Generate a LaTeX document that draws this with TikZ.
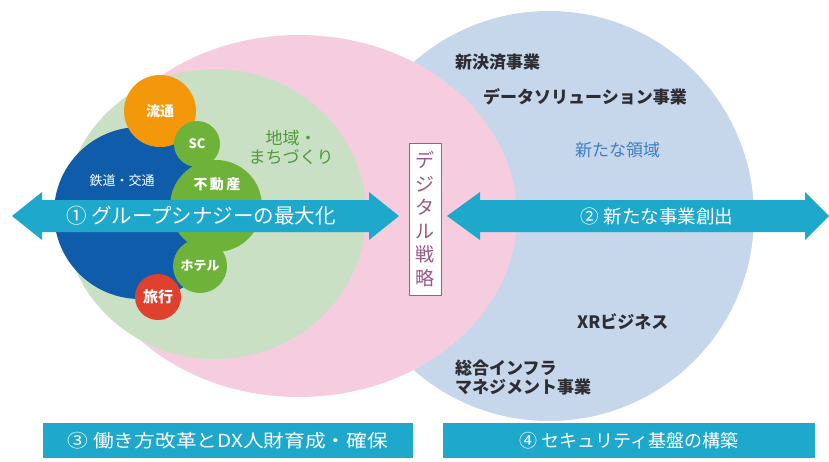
\documentclass[tikz,border=0pt]{standalone}
\usepackage{fontspec}
\setmainfont{Noto Sans CJK JP}
\newfontfamily\jp{Noto Sans CJK JP}
\definecolor{pinkbg}{RGB}{246,205,223}
\definecolor{bluebg}{RGB}{198,214,235}
\definecolor{greenbg}{RGB}{202,224,196}
\definecolor{rail}{RGB}{14,92,170}
\definecolor{orng}{RGB}{243,152,10}
\definecolor{grn}{RGB}{110,178,58}
\definecolor{redc}{RGB}{224,64,46}
\definecolor{cyanar}{RGB}{30,168,204}
\definecolor{newblue}{RGB}{60,126,192}
\definecolor{areagreen}{RGB}{78,154,60}
\definecolor{digi}{RGB}{150,88,138}
\definecolor{darktxt}{RGB}{45,45,50}
\tikzset{
  smallcirc/.style={circle,inner sep=0pt,text=white,font=\jp\bfseries\fontsize{13}{15}\selectfont},
  darklabel/.style={anchor=west,inner sep=0pt,text=darktxt,font=\jp\bfseries\fontsize{17}{19}\selectfont},
  arrowtext/.style={text=white,inner sep=0pt},
  bottombox/.style={fill=cyanar,draw=none,minimum height=35pt,inner sep=0pt,text=white,font=\jp\fontsize{18}{20}\selectfont},
  dblarrow/.style={fill=cyanar,draw=none}
}
\begin{document}
\begin{tikzpicture}[x=1pt,y=-1pt]
\useasboundingbox (0,0) rectangle (829,461);
\fill[white] (0,0) rectangle (829,461);
% big ellipses
\fill[bluebg] (549,216) ellipse [x radius=205, y radius=205];
\fill[pinkbg] (299,216) ellipse [x radius=218, y radius=181];
\fill[greenbg] (215,214) ellipse [x radius=151, y radius=145];
% small circles
\node[smallcirc,fill=rail,minimum size=172pt] (rail) at (140,213) {};
\node[text=white,font=\jp\fontsize{13}{15}\selectfont] (railtxt) at (122,181) {鉄道・交通};
\node[smallcirc,fill=orng,minimum size=72pt,font=\jp\bfseries\fontsize{14}{16}\selectfont] (ryutsu) at (160,111) {流通};
\node[smallcirc,fill=grn,minimum size=46pt] (sc) at (197,144) {SC};
\node[smallcirc,fill=grn,minimum size=92pt] (fudosan) at (216,206) {};
\node[text=white,font=\jp\bfseries\fontsize{14}{16}\selectfont] (fudotxt) at (217,184) {不\,動\,産};
\node[smallcirc,fill=grn,minimum size=54pt] (hotel) at (200,266) {ホテル};
\node[smallcirc,fill=redc,minimum size=46pt,font=\jp\bfseries\fontsize{15}{17}\selectfont] (ryoko) at (158,297) {旅行};
% area label
\node[text=areagreen,font=\jp\fontsize{17}{19}\selectfont,align=center,inner sep=0pt] (area) at (291,147) {地域・\\まちづくり};
% arrows
\coordinate (a1l) at (12,216);
\coordinate (a1r) at (399,216);
\fill[dblarrow] (a1l) -- (42,192) -- (42,200) -- (369,200) -- (369,192) -- (a1r) -- (369,240) -- (369,232) -- (42,232) -- (42,240) -- cycle;
\node[arrowtext,font=\jp\fontsize{20.5}{22}\selectfont] (syn) at (201,216) {① グループシナジーの最大化};
\coordinate (a2l) at (447,216);
\coordinate (a2r) at (829,216);
\fill[dblarrow] (a2l) -- (480,192) -- (480,200) -- (805,200) -- (805,192) -- (a2r) -- (805,240) -- (805,232) -- (480,232) -- (480,240) -- cycle;
\node[arrowtext,font=\jp\fontsize{18.5}{20}\selectfont] (newbiz) at (657,216) {② 新たな事業創出};
% labels in new domain
\node[darklabel] (kessai) at (455,62) {新決済事業};
\node[darklabel] (data) at (483,97) {データソリューション事業};
\node[anchor=west,inner sep=0pt,text=newblue,font=\jp\fontsize{17}{19}\selectfont] (newarea) at (575,150) {新たな領域};
\node[darklabel] (xr) at (577,322) {XRビジネス};
\node[darklabel,align=left] (infra) at (455,378) {総合インフラ\\マネジメント事業};
% digital strategy box
\node[draw=digi!60!gray,line width=0.8pt,fill=white,minimum width=32pt,minimum height=152pt,inner sep=0pt,text=digi,align=center,font=\jp\fontsize{19}{23.5}\selectfont] (digital) at (425,219) {デ\\ジ\\タ\\ル\\戦\\略};
% bottom boxes
\node[bottombox,minimum width=370pt] (b3) at (228,440.5) {\scalebox{1.15}[1]{③ 働き方改革とDX人財育成・確保}};
\node[bottombox,minimum width=372pt] (b4) at (629,440.5) {④ セキュリティ基盤の構築};
\end{tikzpicture}
\end{document}
